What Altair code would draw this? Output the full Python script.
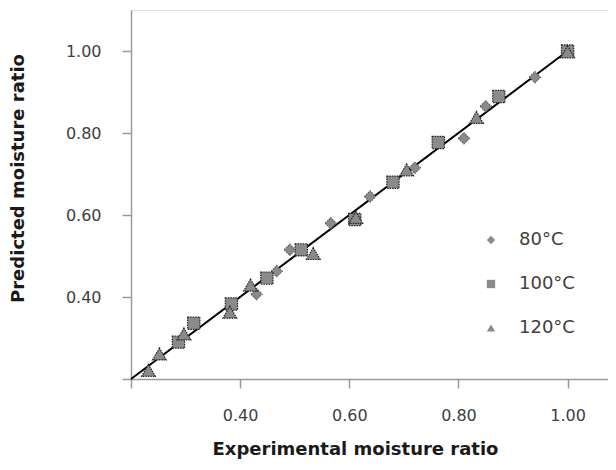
import altair as alt
import pandas as pd

# ---- data ----
series_names = ["80°C", "100°C", "120°C"]

exp_80 = [0.430, 0.467, 0.491, 0.566, 0.638, 0.720, 0.810, 0.850, 0.940, 1.000]
pred_80 = [0.407, 0.463, 0.515, 0.580, 0.645, 0.715, 0.787, 0.865, 0.936, 1.000]

exp_100 = [0.287, 0.315, 0.384, 0.449, 0.512, 0.610, 0.680, 0.763, 0.874, 1.000]
pred_100 = [0.290, 0.336, 0.383, 0.446, 0.515, 0.589, 0.680, 0.777, 0.889, 1.000]

exp_120 = [0.232, 0.252, 0.297, 0.381, 0.419, 0.534, 0.612, 0.705, 0.833, 1.000]
pred_120 = [0.221, 0.261, 0.310, 0.363, 0.429, 0.506, 0.594, 0.710, 0.838, 0.998]

fit_x = [0.20, 1.00]
fit_y = [0.20, 1.00]

tick_values = [0.2, 0.4, 0.6, 0.8, 1.0]

rows = []
for i, (xs, ys) in enumerate([(exp_80, pred_80), (exp_100, pred_100), (exp_120, pred_120)]):
    for x, y in zip(xs, ys):
        rows.append({"exp": x, "pred": y, "series": series_names[i]})
pts = pd.DataFrame(rows)
fit = pd.DataFrame({"exp": fit_x, "pred": fit_y})

FONT = "DejaVu Sans"
label_expr = "datum.value < 0.3 ? '' : format(datum.value, '.2f')"

xscale = alt.Scale(domain=[0.2, 1.074], nice=False, zero=False)
yscale = alt.Scale(domain=[0.2, 1.1], nice=False, zero=False)

xaxis = alt.Axis(
    title="Experimental moisture ratio", values=tick_values, labelExpr=label_expr,
    grid=False, domainColor="#9a9a9a", domainWidth=1.5, tickColor="#9a9a9a",
    tickWidth=1.5, tickSize=9, labelPadding=19, labelFont=FONT, labelFontSize=16,
    labelColor="#404040", titleFont=FONT, titleFontSize=18, titleFontWeight="bold",
    titleColor="#1a1a1a", titleX=224, titleY=70, titleBaseline="middle",
    titleAlign="center", labelFlush=False,
)
yaxis = alt.Axis(
    title="Predicted moisture ratio", values=tick_values, labelExpr=label_expr,
    grid=False, domainColor="#9a9a9a", domainWidth=1.5, tickColor="#9a9a9a",
    tickWidth=1.5, tickSize=9, labelPadding=21, labelFont=FONT, labelFontSize=16,
    labelColor="#404040", titleFont=FONT, titleFontSize=18, titleFontWeight="bold",
    titleColor="#1a1a1a", titleX=-113, titleY=168, titleAngle=270,
    titleBaseline="middle", titleAlign="center", labelFlush=False,
)

line = alt.Chart(fit).mark_line(color="black", strokeWidth=2).encode(
    x=alt.X("exp:Q", scale=xscale, axis=xaxis),
    y=alt.Y("pred:Q", scale=yscale, axis=yaxis),
)

legend = alt.Legend(
    title=None, orient="none", legendX=351, legendY=221, labelFont=FONT,
    labelFontSize=18, labelColor="#404040", symbolSize=70, rowPadding=26,
    labelOffset=19, symbolFillColor="#8a8a8a", symbolStrokeWidth=1,
    symbolStrokeColor="#2a2a2a", padding=0,
)

shape_scale = alt.Scale(domain=series_names, range=["diamond", "square", "triangle-up"])


def layer_for(name, size, stroke, show_legend):
    return alt.Chart(pts).transform_filter(
        alt.datum.series == name
    ).mark_point(
        filled=True, fill="#8a8a8a", size=size, stroke=stroke, strokeWidth=1.2,
        strokeDash=[1.5, 1], opacity=1,
    ).encode(
        x="exp:Q",
        y="pred:Q",
        shape=alt.Shape("series:N", scale=shape_scale,
                        legend=legend if show_legend else None),
    )


p80 = layer_for(series_names[0], 125, "#5a5a5a", True)
p100 = layer_for(series_names[1], 150, "#222222", False)
p120 = layer_for(series_names[2], 190, "#222222", False)

chart = alt.layer(line, p80, p100, p120).properties(
    width=477, height=369,
    autosize=alt.AutoSizeParams(type="none"),
    padding={"left": 123, "top": 2, "right": 0, "bottom": 83},
).configure_view(stroke=None).configure(font=FONT)

chart.save("out.html", embed_options={"renderer": "svg", "actions": False})
